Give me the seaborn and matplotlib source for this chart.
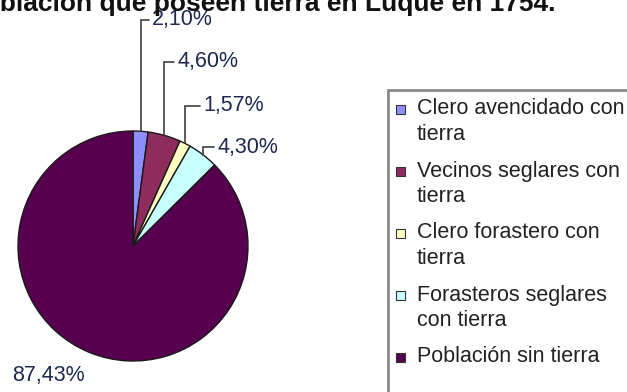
import textwrap

import matplotlib
matplotlib.use("Agg")
import matplotlib.pyplot as plt
from matplotlib.patches import Rectangle
import numpy as np
import seaborn as sns

# Landholding in Luque, 1754 (share of the population, %)
categories = [
    "Clero avencidado con tierra",
    "Vecinos seglares con tierra",
    "Clero forastero con tierra",
    "Forasteros seglares con tierra",
    "Población sin tierra",
]
shares = [2.10, 4.60, 1.57, 4.30, 87.43]
slice_colors = ["#8E8EFF", "#8E2C5E", "#FFFFC4", "#C8FFFF", "#580050"]
title = "Población que poseen tierra en Luque en 1754."

sns.set_theme(style="white")
plt.rcParams["font.family"] = ["Liberation Sans", "DejaVu Sans"]

W, H = 627, 392
fig = plt.figure(figsize=(W / 100, H / 100), dpi=100)
fig.patch.set_facecolor("white")


def fx(px):
    return px / W


def fy(py):
    return 1 - py / H


# pie axes: centre (133, 246) px, radius 115 px
cx, cy, r = 133, 246, 115
ax = fig.add_axes([fx(cx - r), fy(cy + r), 2 * r / W, 2 * r / H])

wedges, _ = ax.pie(
    shares,
    colors=slice_colors,
    startangle=90,
    counterclock=False,
    radius=1,
    wedgeprops=dict(edgecolor="#1a1a1a", linewidth=1.0),
)
ax.set_xlim(-1, 1)
ax.set_ylim(-1, 1)
ax.set_aspect("equal")
ax.axis("off")

# label layout: (text left x, text centre y) in pixels
label_pos = [(152, 20), (177, 62), (203, 106), (217, 147), (12, 375)]
leader = [True, True, True, True, False]
label_color = "#1E2850"


def to_data(px, py):
    return (px - cx) / r, (cy - py) / r


cum = np.cumsum([0] + shares)
for i, val in enumerate(shares):
    mid = (cum[i] + cum[i + 1]) / 2 / 100 * 2 * np.pi
    txt = f"{val:.2f}".replace(".", ",") + "%"
    tx, ty = label_pos[i]
    dx, dy = to_data(tx, ty)
    if leader[i]:
        ex, ey = np.sin(mid), np.cos(mid)
        hx, _ = to_data(tx - 3, ty)
        ax.plot([ex, ex, hx], [ey, dy, dy], color="#404040", lw=1.2,
                clip_on=False, solid_joinstyle="miter")
    ax.text(dx, dy, txt, ha="left", va="center", fontsize=15.5,
            color=label_color, clip_on=False)

# title, running off the top-left edge
fig.text(fx(-34), fy(11), title, ha="left", va="baseline", fontsize=19,
         fontweight="bold", color="#111111")

# legend box (continues past the right and bottom edges)
fig.patches.append(Rectangle((fx(388), fy(420)), 300 / W, (420 - 90) / H,
                             transform=fig.transFigure, facecolor="none",
                             edgecolor="#8A8A8A", linewidth=2, clip_on=False))

first_line = 109
pitch = 62
line_gap = 25
for i, (cat, col) in enumerate(zip(categories, slice_colors)):
    y0 = first_line + i * pitch
    fig.patches.append(Rectangle((fx(396), fy(y0 + 4.5)), 9 / W, 9 / H,
                                 transform=fig.transFigure, facecolor=col,
                                 edgecolor="#333333", linewidth=0.8))
    for j, line in enumerate(textwrap.wrap(cat, width=20)):
        fig.text(fx(417), fy(y0 + j * line_gap), line, ha="left",
                 va="center", fontsize=15.5, color="#222222")

fig.savefig("out.png", dpi=100, facecolor="white")
